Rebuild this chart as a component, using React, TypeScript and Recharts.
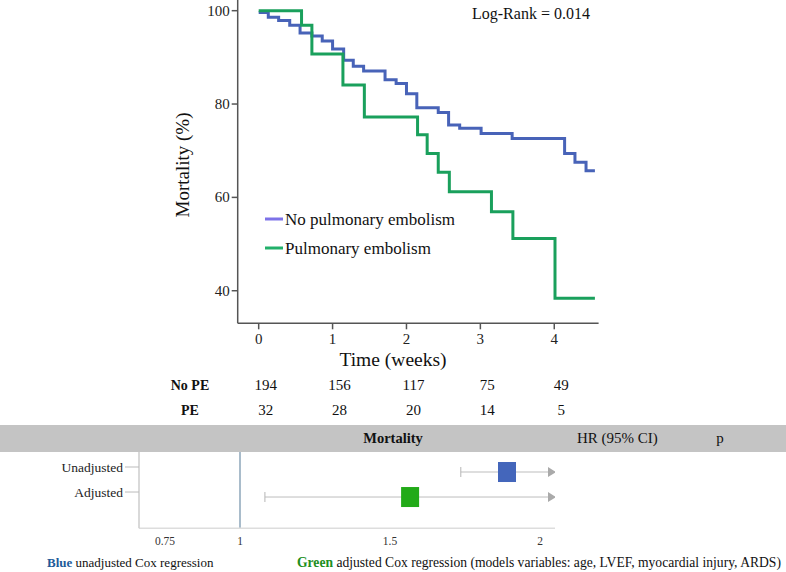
import React from 'react';
import {
  LineChart,
  Line,
  XAxis,
  YAxis,
  Legend,
  ScatterChart,
  Scatter,
  ReferenceLine,
  Cell,
} from 'recharts';

// ---------- Kaplan-Meier data ----------
const noPeTimes = [0, 0.13, 0.27, 0.42, 0.56, 0.72, 0.86, 1.0, 1.15, 1.28, 1.42, 1.71, 1.86, 2.0, 2.14, 2.43, 2.57, 2.72, 3.01, 3.43, 4.14, 4.28, 4.43, 4.55];
const noPeSurv = [99.6, 98.6, 97.9, 96.9, 95.2, 94.6, 93.5, 91.8, 89.4, 88.1, 87.1, 85.2, 84.4, 82.2, 79.2, 78.2, 75.5, 74.8, 73.7, 72.6, 69.4, 67.5, 65.7, 65.7];
const peTimes = [0, 0.58, 0.72, 1.14, 1.43, 2.15, 2.28, 2.43, 2.58, 3.15, 3.44, 4.01, 4.55];
const peSurv = [100, 96.9, 90.7, 84.1, 77.2, 73.4, 69.4, 65.4, 61.2, 56.9, 51.2, 38.4, 38.4];
const timeTicks = [0, 1, 2, 3, 4];
const survTicks = [40, 60, 80, 100];
const seriesNames = ['No pulmonary embolism', 'Pulmonary embolism'];

// ---------- Risk table ----------
const riskRowLabels = ['No PE', 'PE'];
const riskNoPE = [194, 156, 117, 75, 49];
const riskPE = [32, 28, 20, 14, 5];

// ---------- Forest plot ----------
const forestLabels = ['Unadjusted', 'Adjusted'];
const forestMarkerPos = [1.89, 1.567];
const forestLower = [1.736, 1.083];
const hrText = ['3.09 (1.70-5.62)', '1.98 (1.08-3.63)'];
const pText = ['<0.001', '0.028'];
const forestTicks = [0.75, 1, 1.5, 2];

const SERIF = 'Liberation Serif, Times New Roman, serif';
const BLUE = '#4863b8';
const GREEN = '#1aa05c';
const LEG_BLUE = '#7d72e8';
const LEG_GREEN = '#22b06a';
const SQ_BLUE = '#4466bb';
const SQ_GREEN = '#22aa18';

const noPeData = noPeTimes.map((t, i) => ({ t, s: noPeSurv[i] }));
const peData = peTimes.map((t, i) => ({ t, s: peSurv[i] }));

const riskData1 = timeTicks.map((t, i) => ({ t, row: 2, n: riskNoPE[i] }));
const riskData2 = timeTicks.map((t, i) => ({ t, row: 1, n: riskPE[i] }));

const FX_MIN = 0.6633;
const FX_MAX = 2.05;
const forestData = forestLabels.map((l, i) => ({
  row: i + 1,
  pos: forestMarkerPos[i],
  lo: forestLower[i],
}));
const forestArrowData = forestData.map((d) => ({ row: d.row, pos: FX_MAX }));
const forestLowData = forestData.map((d) => ({ row: d.row, pos: d.lo }));
const forestColors = [SQ_BLUE, SQ_GREEN];

const LegendContent = () => (
  <svg width={220} height={60} style={{ display: 'block' }}>
    {seriesNames.map((n, i) => (
      <g key={n}>
        <line x1={0} x2={18} y1={14 + i * 29} y2={14 + i * 29} stroke={i === 0 ? LEG_BLUE : LEG_GREEN} strokeWidth={3} />
        <text x={20} y={14 + i * 29} dominantBaseline="central" fontFamily={SERIF} fontSize={17} fill="#111">
          {n}
        </text>
      </g>
    ))}
  </svg>
);

const KmXTick = (props: any) => (
  <text x={props.x} y={props.y + 7.5} textAnchor="middle" dominantBaseline="central" fontFamily={SERIF} fontSize={15} fill="#222">
    {props.payload.value}
  </text>
);

const KmYTick = (props: any) => (
  <text x={props.x} y={props.y} textAnchor="end" dominantBaseline="central" fontFamily={SERIF} fontSize={15} fill="#222">
    {props.payload.value}
  </text>
);

const ForestXTick = (props: any) => (
  <text x={props.x} y={props.y} textAnchor="middle" dominantBaseline="central" fontFamily={SERIF} fontSize={11.5} fill="#333">
    {props.payload.value}
  </text>
);

const RiskShape = (props: any) => (
  <text
    x={props.cx + 7}
    y={props.cy}
    textAnchor="middle"
    dominantBaseline="central"
    fontFamily={SERIF}
    fontSize={15}
    fill="#111"
  >
    {props.payload.n}
  </text>
);

const SquareShape = (props: any) => (
  <rect x={props.cx - 9} y={props.cy - 10} width={18} height={20} fill={props.fill} />
);

const ArrowShape = (props: any) => (
  <g>
    <polygon points={`${props.cx + 1},${props.cy} ${props.cx - 7},${props.cy - 5} ${props.cx - 7},${props.cy + 5}`} fill="#aaaaaa" />
    <text x={props.cx + 22} y={props.cy} dominantBaseline="central" fontFamily={SERIF} fontSize={12.5} fill="#111">
      {hrText[props.payload.row - 1]}
    </text>
    <text x={props.cx + 161} y={props.cy} textAnchor="middle" dominantBaseline="central" fontFamily={SERIF} fontSize={12.5} fill="#111">
      {pText[props.payload.row - 1]}
    </text>
  </g>
);

const CapShape = (props: any) => (
  <line x1={props.cx} x2={props.cx} y1={props.cy - 5} y2={props.cy + 5} stroke="#b5b5b5" strokeWidth={1} />
);

const ForestYTick = (props: any) => {
  const { x, y, payload } = props;
  const yy = y - 5;
  return (
    <g>
      <line x1={x - 14} x2={x} y1={yy} y2={yy} stroke="#bbbbbb" strokeWidth={1} />
      <text x={x - 16} y={yy} textAnchor="end" dominantBaseline="central" fontFamily={SERIF} fontSize={13.5} fill="#222">
        {forestLabels[payload.value - 1]}
      </text>
    </g>
  );
};

export default function App() {
  return (
    <div style={{ position: 'absolute', left: 0, top: 0, width: 786, height: 572, background: '#fff', overflow: 'hidden', fontFamily: SERIF }}>
      {/* static decorations & labels */}
      <svg width={786} height={572} style={{ position: 'absolute', left: 0, top: 0 }}>
        <rect x={0} y={425} width={786} height={27} fill="#c4c4c4" />
        <text x={182} y={165} transform="rotate(-90 182 165)" textAnchor="middle" dominantBaseline="central" fontFamily={SERIF} fontSize={19} fill="#111">
          Mortality (%)
        </text>
        <text x={393} y={359} textAnchor="middle" dominantBaseline="central" fontFamily={SERIF} fontSize={19.5} fill="#111">
          Time (weeks)
        </text>
        <text x={472} y={13} dominantBaseline="central" fontFamily={SERIF} fontSize={16} fill="#111">
          Log-Rank = 0.014
        </text>
        {riskRowLabels.map((l, i) => (
          <text key={l} x={190} y={385 + i * 25} textAnchor="middle" dominantBaseline="central" fontFamily={SERIF} fontSize={14} fontWeight="bold" fill="#111">
            {l}
          </text>
        ))}
        <text x={393} y={438} textAnchor="middle" dominantBaseline="central" fontFamily={SERIF} fontSize={14.5} fontWeight="bold" fill="#111">
          Mortality
        </text>
        <text x={577} y={438} dominantBaseline="central" fontFamily={SERIF} fontSize={15} fill="#111">
          HR (95% CI)
        </text>
        <text x={720} y={438} textAnchor="middle" dominantBaseline="central" fontFamily={SERIF} fontSize={15} fill="#111">
          p
        </text>
        <text x={47} y={562} dominantBaseline="central" fontFamily={SERIF} fontSize={13} fill="#111">
          <tspan fontWeight="bold" fill="#1e5b9a">Blue</tspan>
          <tspan> unadjusted Cox regression</tspan>
        </text>
        <text x={297} y={562} dominantBaseline="central" fontFamily={SERIF} fontSize={13.6} fill="#111">
          <tspan fontWeight="bold" fill="#1d8f1d">Green</tspan>
          <tspan> adjusted Cox regression (models variables: age, LVEF, myocardial injury, ARDS)</tspan>
        </text>
      </svg>

      {/* Kaplan-Meier chart */}
      <div style={{ position: 'absolute', left: 0, top: 0 }}>
        <LineChart width={786} height={380} margin={{ top: 0, right: 187.4, bottom: 26.7, left: 177.7 }}>
          <XAxis
            type="number"
            dataKey="t"
            domain={[-0.284, 4.6]}
            ticks={timeTicks}
            allowDataOverflow
            height={30}
            tickSize={6}
            axisLine={{ stroke: '#555', strokeWidth: 1.5 }}
            tickLine={{ stroke: '#555', strokeWidth: 1.5 }}
            tick={<KmXTick />}
          />
          <YAxis
            type="number"
            dataKey="s"
            domain={[33.02, 102.29]}
            ticks={survTicks}
            allowDataOverflow
            width={60}
            tickSize={6}
            axisLine={{ stroke: '#555', strokeWidth: 1.5 }}
            tickLine={{ stroke: '#555', strokeWidth: 1.5 }}
            tick={<KmYTick />}
          />
          <Legend
            layout="horizontal"
            verticalAlign="middle"
            align="center"
            content={<LegendContent />}
            wrapperStyle={{ left: 265, top: 205, width: 220, height: 60 }}
          />
          <Line data={noPeData} dataKey="s" name={seriesNames[0]} type="stepAfter" stroke={BLUE} strokeWidth={3} dot={false} isAnimationActive={false} />
          <Line data={peData} dataKey="s" name={seriesNames[1]} type="stepAfter" stroke={GREEN} strokeWidth={3} dot={false} isAnimationActive={false} />
        </LineChart>
      </div>

      {/* Risk table */}
      <div style={{ position: 'absolute', left: 0, top: 372 }}>
        <ScatterChart width={786} height={60} margin={{ top: 0, right: 187.4, bottom: 0, left: 237.7 }}>
          <XAxis type="number" dataKey="t" domain={[-0.284, 4.6]} hide allowDataOverflow />
          <YAxis type="number" dataKey="row" domain={[0.12, 2.52]} hide allowDataOverflow />
          <Scatter data={riskData1} shape={<RiskShape />} isAnimationActive={false} />
          <Scatter data={riskData2} shape={<RiskShape />} isAnimationActive={false} />
        </ScatterChart>
      </div>

      {/* Forest plot */}
      <div style={{ position: 'absolute', left: 0, top: 452 }}>
        <ScatterChart width={786} height={110} margin={{ top: 0, right: 231, bottom: 3.7, left: 59 }}>
          <XAxis
            type="number"
            dataKey="pos"
            domain={[FX_MIN, FX_MAX]}
            ticks={forestTicks}
            allowDataOverflow
            height={30}
            tickLine={false}
            tickSize={11}
            axisLine={{ stroke: '#dddddd', strokeWidth: 1.5 }}
            tick={<ForestXTick />}
          />
          <YAxis
            type="number"
            dataKey="row"
            domain={[0.2, 3.25]}
            reversed
            ticks={[1, 2]}
            allowDataOverflow
            width={80}
            tickLine={false}
            tickSize={0}
            tickMargin={0}
            axisLine={{ stroke: '#cccccc', strokeWidth: 1.5 }}
            tick={<ForestYTick />}
          />
          <ReferenceLine x={1} stroke="#a9bccb" strokeWidth={2} />
          {forestData.map((d) => (
            <ReferenceLine
              key={d.row}
              segment={[{ x: d.lo, y: d.row }, { x: FX_MAX, y: d.row }]}
              stroke="#bdbdbd"
              strokeWidth={1}
            />
          ))}
          <Scatter data={forestLowData} shape={<CapShape />} isAnimationActive={false} />
          <Scatter data={forestArrowData} shape={<ArrowShape />} isAnimationActive={false} />
          <Scatter data={forestData} shape={<SquareShape />} isAnimationActive={false}>
            {forestData.map((d, i) => (
              <Cell key={d.row} fill={forestColors[i]} />
            ))}
          </Scatter>
        </ScatterChart>
      </div>
    </div>
  );
}
